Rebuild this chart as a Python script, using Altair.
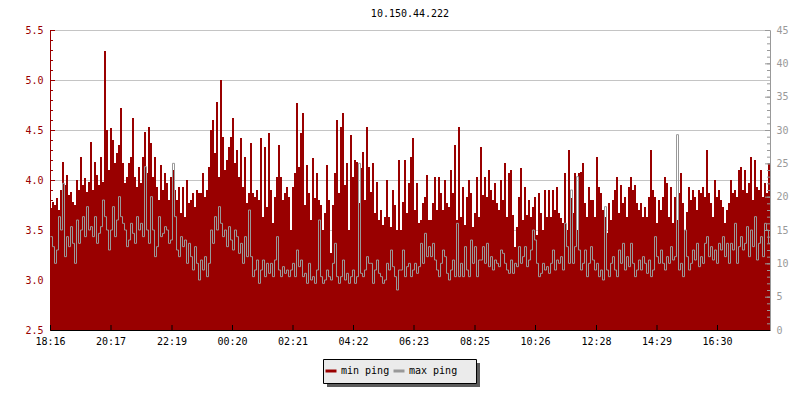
import json
import altair as alt
import pandas as pd

MONO = "DejaVu Sans Mono"

title_text = "10.150.44.222"
series_names = ["min ping", "max ping"]
series_colors = ["#990000", "#999999"]

time_labels = ["18:16", "20:17", "22:19", "00:20", "02:21", "04:22",
               "06:23", "08:25", "10:26", "12:28", "14:29", "16:30"]
tick_minutes = [0, 121, 243, 364, 485, 606, 727, 849, 970, 1092, 1213, 1334]
span_minutes = 1440
step_minutes = 4

left_ticks = [2.5, 3.0, 3.5, 4.0, 4.5, 5.0, 5.5]
right_ticks = [0, 5, 10, 15, 20, 25, 30, 35, 40, 45]

# min ping (left axis, ms)
min_ping = [
    3.72, 3.78, 3.75, 3.82, 3.70, 3.90, 4.18, 3.95, 4.05, 3.85,
    3.88, 3.78, 3.75, 4.00, 3.90, 4.23, 3.95, 4.02, 3.88, 3.98,
    4.38, 3.90, 4.18, 4.05, 3.95, 4.23, 3.98, 5.29, 4.50, 4.10,
    4.52, 4.40, 4.17, 4.27, 4.35, 4.72, 4.17, 3.97, 4.03, 4.17,
    4.23, 4.62, 4.03, 3.93, 4.13, 3.97, 4.23, 4.48, 4.07, 4.53,
    4.37, 4.03, 4.23, 3.93, 3.80, 4.15, 3.90, 4.07, 3.97, 3.80,
    4.03, 4.10, 3.90, 3.80, 3.93, 3.67, 3.93, 3.63, 4.00, 3.77,
    3.80, 3.87, 3.73, 3.90, 3.87, 3.87, 4.07, 3.83, 3.90, 4.13,
    4.50, 4.60, 4.27, 4.78, 4.03, 5.00, 4.43, 4.10, 4.20, 4.33,
    4.43, 4.62, 4.17, 4.30, 4.03, 4.42, 3.93, 4.23, 3.77, 3.87,
    4.37, 3.87, 3.83, 3.90, 3.80, 4.42, 3.63, 4.33, 3.73, 4.47,
    3.90, 3.57, 3.83, 4.03, 4.35, 4.03, 3.80, 3.87, 3.93, 3.83,
    3.50, 3.93, 4.07, 4.77, 4.13,
    4.47, 4.67, 3.75, 4.15, 3.87, 3.60, 4.22, 3.82, 4.07, 3.80,
    3.75, 3.50, 3.67, 4.15, 3.80, 3.27, 3.75, 4.07, 4.60, 3.87,
    4.53, 4.67, 3.95, 4.17, 3.50, 4.45, 4.03, 4.20, 4.18, 3.77,
    4.12, 4.28, 3.80, 4.53, 4.13, 3.88, 4.17, 3.67, 3.98, 3.60,
    3.70, 3.55, 3.63, 4.00, 3.63, 3.53, 3.90, 3.75, 3.50, 4.20,
    3.50, 3.78, 4.20, 3.67, 3.97, 4.23, 4.42, 3.70, 3.97, 3.57,
    3.60, 3.77, 3.83, 4.05, 3.60, 3.60, 3.77, 4.03, 3.70, 4.03,
    3.87, 3.70, 4.00, 3.77, 3.73, 4.10, 3.87, 4.35, 3.60, 4.53,
    3.63, 3.93, 3.55, 3.83, 4.00, 3.87, 3.53, 3.67, 4.03, 3.63,
    4.33, 3.85, 4.03, 3.83, 4.10, 3.90, 3.80, 3.97, 3.77, 3.70,
    4.00, 3.80, 4.17, 3.63, 4.07, 4.10, 3.65, 3.33, 3.53, 3.83,
    4.12, 3.60, 3.93, 3.65, 3.80, 3.63, 3.73, 3.83, 3.45, 3.87,
    3.67, 3.50, 3.90, 3.63, 3.90,
    3.63, 3.90, 3.70, 3.93, 3.67, 3.62, 3.57, 4.07, 3.50, 4.30,
    3.82, 3.67, 4.07, 3.50, 4.07, 4.08, 4.17, 3.77, 3.63, 3.93,
    3.80, 3.80, 3.63, 4.23, 3.93, 3.87, 3.70, 3.63, 3.47, 3.77,
    3.60, 3.80, 3.90, 4.03, 3.67, 3.95, 3.77, 3.83, 3.63, 3.93,
    4.03, 3.90, 3.95, 3.77, 3.70, 3.77, 3.63, 3.73, 3.63, 3.83,
    4.30, 3.90, 3.83, 3.57, 3.80, 3.70, 3.83, 4.03, 3.97, 3.63,
    3.93, 3.57, 3.83, 3.60, 3.87, 4.07, 3.77, 3.50, 3.68, 3.93,
    3.80, 3.90, 3.83, 3.70, 3.90, 3.87, 3.93, 3.83, 4.30, 3.87,
    3.77, 3.63, 4.00, 3.83, 3.90, 3.80, 3.73, 3.57, 3.70, 3.77,
    4.00, 3.87, 3.90, 3.83, 4.10, 4.13, 3.90, 4.10, 3.87, 3.97,
    4.23, 3.80, 4.20, 3.93, 3.90, 4.10, 3.83, 3.97, 3.87, 4.17,
]

# max ping (right axis, ms)
max_ping = [
    14, 12.5, 10, 12, 17, 15, 22, 11, 14, 12.5,
    15.5, 13, 10, 16.5, 13, 15, 17, 14, 18.5, 15,
    15.5, 14, 17, 13, 14.5, 15.5, 19.5, 17, 15, 12,
    15, 18.5, 14, 16.5, 20, 17, 16, 15, 12.5, 13.5,
    16, 14.5, 13, 17, 15, 16, 14, 24.5, 15, 13,
    20, 15, 11, 12.5, 17, 14, 14.5, 15.5, 15, 13,
    13.5, 25, 17, 12, 11, 14, 12.5, 13.5, 10, 13,
    11, 9, 12.5, 10, 7.5, 10.5, 9, 11, 8, 10,
    15, 13, 17, 15, 18.5, 16, 14, 15, 12.5, 15.5,
    13.5, 12, 15, 14, 11.5, 13, 10, 14, 11, 18,
    11, 8, 9, 10.5, 7, 9, 10.5, 8, 10, 8.5,
    10, 8, 10.5, 14, 9, 8, 9.5, 8.5, 9, 8,
    9, 10, 8, 12, 9.5,
    10.5, 8, 8.5, 7, 10, 7.5, 8, 7, 9, 16.5,
    8, 7, 7.5, 9, 8, 7.5, 10, 13, 8, 7,
    8, 10.5, 7.5, 8.5, 7, 8, 9, 7, 8, 25,
    8.5, 8, 9, 11, 10, 10, 7, 9, 10.5, 8.5,
    8, 7, 7.5, 10, 9, 12, 9.5, 8, 6, 9,
    9, 12, 8, 9.5, 10, 8, 9, 10, 8.5, 9.5,
    13, 10, 14.5, 11, 12.5, 11, 13, 10.5, 9, 8,
    10, 12, 11, 8.5, 7.5, 9, 10.5, 8, 16, 8,
    10, 8, 12.5, 9, 8, 13.5, 10, 12.5, 8, 10.5,
    10.5, 12.5, 10, 13, 9.5, 11, 9, 10.5, 10, 9.5,
    12, 11.5, 10, 9, 8.5, 10.5, 8.5, 10, 9.5, 12.5,
    10, 11, 12.5, 9.5, 10.5, 12, 15, 13.5, 10, 8,
    8.5, 10, 9, 9.5, 8.5,
    10, 12, 9, 10.5, 10, 11, 9, 16, 12.5, 10,
    21, 10, 12.5, 23, 12, 9, 10, 12, 8, 10,
    12.5, 10.5, 9, 10, 8, 9, 7.5, 18.5, 9, 8,
    10, 11, 9, 8, 12, 10, 13, 9, 11, 9.5,
    13, 10, 8, 9, 10.5, 9, 11, 10, 8.5, 10.5,
    8, 9, 14, 11, 10, 12, 10, 9, 11, 10,
    12.5, 10.5, 11, 29.3, 9, 10, 8, 15, 11, 9,
    10, 12, 10.5, 13, 9.5, 11, 10, 13, 14, 11,
    12.5, 10.5, 12, 10, 13, 12, 14, 11, 13, 10,
    13, 12, 16, 10, 12.5, 14, 12, 13, 15.5, 11,
    15, 12.5, 17, 10.5, 13, 14, 11, 16, 15, 13,
]

n = len(min_ping)
t_vals = [i * step_minutes for i in range(n)] + [n * step_minutes]
df = pd.DataFrame({
    "t": t_vals,
    "min": min_ping + [min_ping[-1]],
    "max": max_ping + [max_ping[-1]],
})

label_expr = f"{json.dumps(time_labels)}[indexof({json.dumps(tick_minutes)}, datum.value)]"

x_scale = alt.Scale(domain=[0, span_minutes], nice=False, zero=False)
x_axis = alt.Axis(values=tick_minutes, labelExpr=label_expr, title=None, grid=False,
                  ticks=False, domainColor="#000000", labelColor="#000000",
                  labelFont=MONO, labelFontSize=10, labelPadding=6,
                  labelFlush=False, labelOverlap=False, zindex=1)
x_enc = alt.X("t:Q", scale=x_scale, axis=x_axis)

yl_scale = alt.Scale(domain=[2.5, 5.5], nice=False, zero=False)
yl_axis = alt.Axis(values=left_ticks, format=".1f", title=None, grid=True,
                   gridColor="#c4c4c4", ticks=False, domainColor="#990000",
                   labelColor="#990000", labelFont=MONO, labelFontSize=10,
                   labelPadding=7, orient="left")
yr_scale = alt.Scale(domain=[0, 45], nice=False, zero=False)
yr_axis = alt.Axis(values=right_ticks, format="d", title=None, grid=False,
                   ticks=False, domainColor="#999999", labelColor="#999999",
                   labelFont=MONO, labelFontSize=10, labelPadding=6,
                   orient="right", zindex=1)

area = alt.Chart(df).mark_area(interpolate="step-after", color=series_colors[0],
                               clip=True).encode(
    x=x_enc,
    y=alt.Y("min:Q", scale=yl_scale, axis=yl_axis),
    y2=alt.datum(2.5),
)

lt_minor = [round(2.5 + 0.1 * k, 2) for k in range(31)]
lt_major = left_ticks
left_minor = alt.Chart(pd.DataFrame({"v": lt_minor})).mark_rule(
    color="#990000", yOffset=0.5).encode(
    y=alt.Y("v:Q", scale=yl_scale, axis=yl_axis), x=alt.value(0), x2=alt.value(3))
left_major = alt.Chart(pd.DataFrame({"v": lt_major})).mark_rule(
    color="#990000", yOffset=0.5).encode(
    y=alt.Y("v:Q", scale=yl_scale, axis=yl_axis), x=alt.value(0), x2=alt.value(5))

x_ticks = alt.Chart(pd.DataFrame({"t": tick_minutes})).mark_rule(
    color="#000000", xOffset=0.5).encode(
    x=x_enc, y=alt.value(295), y2=alt.value(300))

legend_layer = alt.Chart(pd.DataFrame({"s": series_names})).mark_line().encode(
    x=alt.value(0), y=alt.value(0),
    color=alt.Color("s:N", scale=alt.Scale(domain=series_names, range=series_colors),
                    legend=alt.Legend(title=None, orient="none", legendX=274, legendY=334,
                                      direction="horizontal", symbolType="stroke",
                                      symbolSize=121, symbolStrokeWidth=3,
                                      labelFont=MONO, labelFontSize=10,
                                      labelColor="#000000", padding=0,
                                      columnPadding=-3, labelOffset=3)),
)

# legend frame: drop shadow and box
shadow = alt.Chart(pd.DataFrame({"s": [0]})).mark_rect(color="#5c5c5c").encode(
    x=alt.value(277), x2=alt.value(430), y=alt.value(333), y2=alt.value(357))
frame = alt.Chart(pd.DataFrame({"s": [0]})).mark_rect(
    fill="#ebebeb", stroke="#000000", strokeWidth=1).encode(
    x=alt.value(273.5), x2=alt.value(426.5), y=alt.value(329.5), y2=alt.value(353.5))

left = alt.layer(area, left_minor, left_major, x_ticks, shadow, frame, legend_layer)

line = alt.Chart(df).mark_line(interpolate="step-after", stroke=series_colors[1],
                               strokeWidth=1, clip=True, xOffset=0.5).encode(
    x=x_enc,
    y=alt.Y("max:Q", scale=yr_scale, axis=yr_axis),
)
rt_minor = list(range(0, 46))
right_minor = alt.Chart(pd.DataFrame({"v": rt_minor})).mark_rule(
    color="#999999", yOffset=0.5).encode(
    y=alt.Y("v:Q", scale=yr_scale, axis=yr_axis), x=alt.value(717), x2=alt.value(720))
right_major = alt.Chart(pd.DataFrame({"v": right_ticks})).mark_rule(
    color="#999999", yOffset=0.5).encode(
    y=alt.Y("v:Q", scale=yr_scale, axis=yr_axis), x=alt.value(715), x2=alt.value(720))

right = alt.layer(line, right_minor, right_major)

chart = alt.layer(left, right).resolve_scale(y="independent").properties(
    width=720, height=300,
    title=alt.TitleParams(text=title_text, font=MONO, fontSize=10, fontWeight="normal",
                          color="#000000", anchor="middle", offset=6),
    padding={"left": 42, "top": 22, "right": 22, "bottom": 62},
    autosize=alt.AutoSizeParams(type="none"),
).configure_view(stroke=None).configure(background="#ffffff")

chart.save("out.html", embed_options={"renderer": "svg", "actions": False})
